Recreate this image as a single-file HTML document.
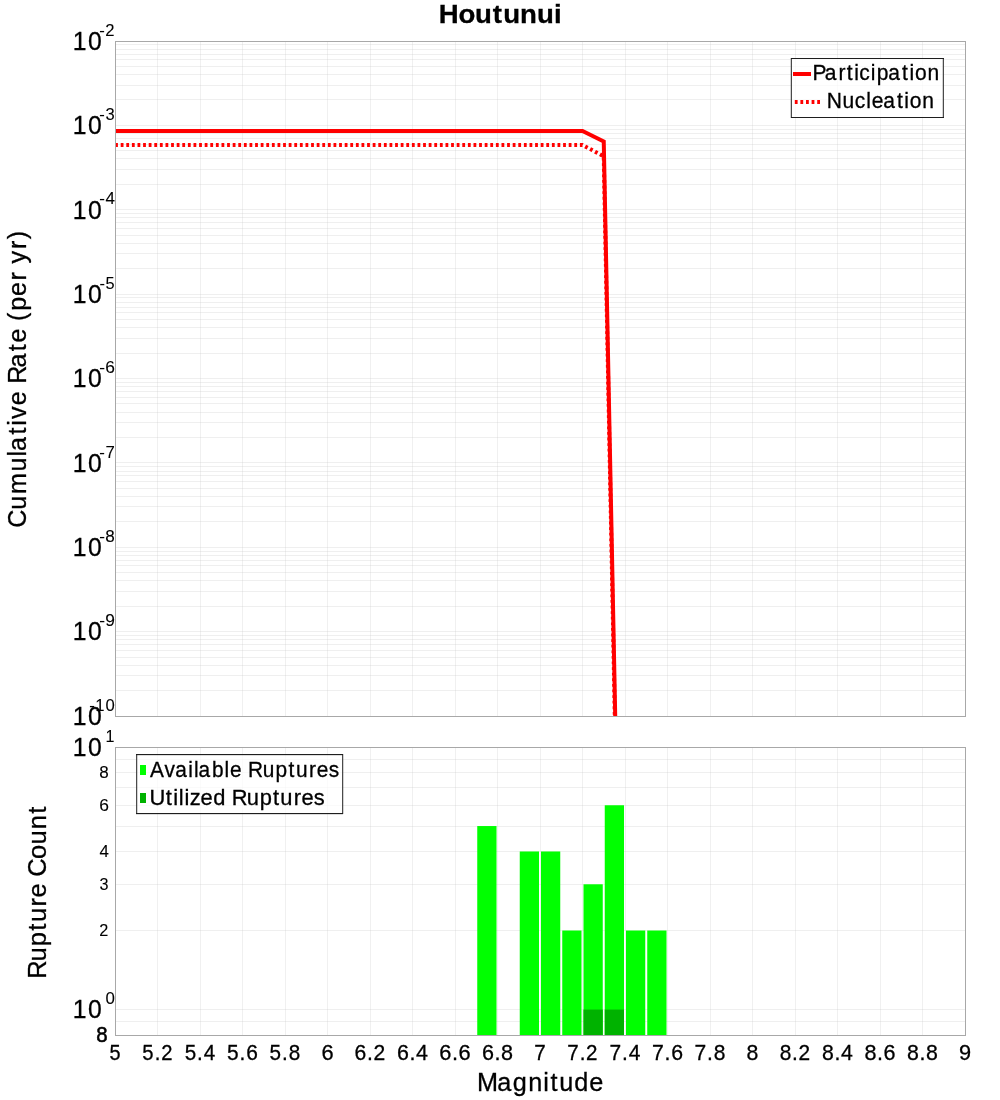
<!DOCTYPE html><html><head><meta charset="utf-8"><title>Houtunui</title><style>html,body{margin:0;padding:0;background:#fff;overflow:hidden}svg{display:block;will-change:transform}text{font-family:"Liberation Sans",sans-serif;stroke:#000;stroke-width:0.3px}text.b8{stroke-width:0.55px}text.s16{stroke-width:0.1px}</style></head><body>
<svg width="1000" height="1100" viewBox="0 0 1000 1100">
<rect x="0" y="0" width="1000" height="1100" fill="#fff"/>
<g fill="rgba(192,192,192,0.24)"><rect x="157" y="42" width="1" height="674"/><rect x="200" y="42" width="1" height="674"/><rect x="242" y="42" width="1" height="674"/><rect x="285" y="42" width="1" height="674"/><rect x="327" y="42" width="1" height="674"/><rect x="370" y="42" width="1" height="674"/><rect x="412" y="42" width="1" height="674"/><rect x="455" y="42" width="1" height="674"/><rect x="497" y="42" width="1" height="674"/><rect x="540" y="42" width="1" height="674"/><rect x="582" y="42" width="1" height="674"/><rect x="625" y="42" width="1" height="674"/><rect x="667" y="42" width="1" height="674"/><rect x="710" y="42" width="1" height="674"/><rect x="752" y="42" width="1" height="674"/><rect x="795" y="42" width="1" height="674"/><rect x="837" y="42" width="1" height="674"/><rect x="880" y="42" width="1" height="674"/><rect x="922" y="42" width="1" height="674"/></g>
<g fill="rgba(192,192,192,0.26)"><rect x="116" y="44" width="849" height="1"/><rect x="116" y="49" width="849" height="1"/><rect x="116" y="54" width="849" height="1"/><rect x="116" y="59" width="849" height="1"/><rect x="116" y="66" width="849" height="1"/><rect x="116" y="74" width="849" height="1"/><rect x="116" y="85" width="849" height="1"/><rect x="116" y="99" width="849" height="1"/><rect x="116" y="125" width="849" height="1"/><rect x="116" y="129" width="849" height="1"/><rect x="116" y="133" width="849" height="1"/><rect x="116" y="138" width="849" height="1"/><rect x="116" y="144" width="849" height="1"/><rect x="116" y="150" width="849" height="1"/><rect x="116" y="158" width="849" height="1"/><rect x="116" y="169" width="849" height="1"/><rect x="116" y="184" width="849" height="1"/><rect x="116" y="209" width="849" height="1"/><rect x="116" y="213" width="849" height="1"/><rect x="116" y="217" width="849" height="1"/><rect x="116" y="222" width="849" height="1"/><rect x="116" y="228" width="849" height="1"/><rect x="116" y="235" width="849" height="1"/><rect x="116" y="243" width="849" height="1"/><rect x="116" y="253" width="849" height="1"/><rect x="116" y="268" width="849" height="1"/><rect x="116" y="294" width="849" height="1"/><rect x="116" y="297" width="849" height="1"/><rect x="116" y="302" width="849" height="1"/><rect x="116" y="307" width="849" height="1"/><rect x="116" y="312" width="849" height="1"/><rect x="116" y="319" width="849" height="1"/><rect x="116" y="327" width="849" height="1"/><rect x="116" y="338" width="849" height="1"/><rect x="116" y="353" width="849" height="1"/><rect x="116" y="378" width="849" height="1"/><rect x="116" y="382" width="849" height="1"/><rect x="116" y="386" width="849" height="1"/><rect x="116" y="391" width="849" height="1"/><rect x="116" y="397" width="849" height="1"/><rect x="116" y="403" width="849" height="1"/><rect x="116" y="412" width="849" height="1"/><rect x="116" y="422" width="849" height="1"/><rect x="116" y="437" width="849" height="1"/><rect x="116" y="462" width="849" height="1"/><rect x="116" y="466" width="849" height="1"/><rect x="116" y="471" width="849" height="1"/><rect x="116" y="475" width="849" height="1"/><rect x="116" y="481" width="849" height="1"/><rect x="116" y="488" width="849" height="1"/><rect x="116" y="496" width="849" height="1"/><rect x="116" y="506" width="849" height="1"/><rect x="116" y="521" width="849" height="1"/><rect x="116" y="547" width="849" height="1"/><rect x="116" y="551" width="849" height="1"/><rect x="116" y="555" width="849" height="1"/><rect x="116" y="560" width="849" height="1"/><rect x="116" y="565" width="849" height="1"/><rect x="116" y="572" width="849" height="1"/><rect x="116" y="580" width="849" height="1"/><rect x="116" y="591" width="849" height="1"/><rect x="116" y="606" width="849" height="1"/><rect x="116" y="631" width="849" height="1"/><rect x="116" y="635" width="849" height="1"/><rect x="116" y="639" width="849" height="1"/><rect x="116" y="644" width="849" height="1"/><rect x="116" y="650" width="849" height="1"/><rect x="116" y="657" width="849" height="1"/><rect x="116" y="665" width="849" height="1"/><rect x="116" y="675" width="849" height="1"/><rect x="116" y="690" width="849" height="1"/></g>
<g fill="rgba(192,192,192,0.24)"><rect x="157" y="748" width="1" height="287"/><rect x="200" y="748" width="1" height="287"/><rect x="242" y="748" width="1" height="287"/><rect x="285" y="748" width="1" height="287"/><rect x="327" y="748" width="1" height="287"/><rect x="370" y="748" width="1" height="287"/><rect x="412" y="748" width="1" height="287"/><rect x="455" y="748" width="1" height="287"/><rect x="497" y="748" width="1" height="287"/><rect x="540" y="748" width="1" height="287"/><rect x="582" y="748" width="1" height="287"/><rect x="625" y="748" width="1" height="287"/><rect x="667" y="748" width="1" height="287"/><rect x="710" y="748" width="1" height="287"/><rect x="752" y="748" width="1" height="287"/><rect x="795" y="748" width="1" height="287"/><rect x="837" y="748" width="1" height="287"/><rect x="880" y="748" width="1" height="287"/><rect x="922" y="748" width="1" height="287"/></g>
<g fill="rgba(192,192,192,0.26)"><rect x="116" y="1021" width="849" height="1"/><rect x="116" y="1009" width="849" height="1"/><rect x="116" y="930" width="849" height="1"/><rect x="116" y="884" width="849" height="1"/><rect x="116" y="851" width="849" height="1"/><rect x="116" y="826" width="849" height="1"/><rect x="116" y="805" width="849" height="1"/><rect x="116" y="787" width="849" height="1"/><rect x="116" y="772" width="849" height="1"/><rect x="116" y="759" width="849" height="1"/></g>
<g fill="#00ff00"><rect x="477.25" y="826.04" width="19.25" height="208.96"/><rect x="519.75" y="851.48" width="19.25" height="183.52"/><rect x="541.00" y="851.48" width="19.25" height="183.52"/><rect x="562.25" y="930.52" width="19.25" height="104.48"/><rect x="583.50" y="884.28" width="19.25" height="150.72"/><rect x="604.75" y="805.25" width="19.25" height="229.75"/><rect x="626.00" y="930.52" width="19.25" height="104.48"/><rect x="647.25" y="930.52" width="19.25" height="104.48"/></g>
<g fill="#00b200"><rect x="583.50" y="1009.56" width="19.25" height="25.44"/><rect x="604.75" y="1009.56" width="19.25" height="25.44"/></g>
<defs><clipPath id="c1"><rect x="115" y="41" width="850" height="675"/></clipPath></defs>
<g clip-path="url(#c1)" fill="none" stroke="#ff0000" stroke-width="4" stroke-linejoin="miter" stroke-miterlimit="10">
<polyline points="115.10,145.00 582.50,145.00 603.75,156.30 615.67,760.00" stroke-dasharray="2.8 2.8"/>
<polyline points="115.00,131.00 582.50,131.00 603.75,141.50 616.10,760.00"/>
</g>
<rect x="115.5" y="41.5" width="850" height="675" fill="none" stroke="#a8a8a8" stroke-width="1"/>
<rect x="115.5" y="747.5" width="850" height="288" fill="none" stroke="#a8a8a8" stroke-width="1"/>
<rect x="791" y="58" width="153" height="60" fill="rgba(255,255,255,0.7)"/>
<g fill="#1e1e1e"><rect x="791" y="58" width="153" height="1"/><rect x="791" y="117" width="153" height="1"/><rect x="790.8" y="58" width="1" height="60"/><rect x="942.8" y="58" width="1" height="60"/></g>
<rect x="793" y="72" width="18" height="4" fill="#ff0000"/>
<g fill="#ff0000"><rect x="794.80" y="100" width="2.8" height="4"/><rect x="800.40" y="100" width="2.8" height="4"/><rect x="806.00" y="100" width="2.8" height="4"/><rect x="811.60" y="100" width="2.8" height="4"/><rect x="817.20" y="100" width="2.8" height="4"/></g>
<text transform="matrix(0.9638,0,0,1,0,0)" x="842.94 855.73 870.05 878.59 886.27 891.63 903.57 909.59 921.71 935.98 943.66 949.31 962.37" y="80.00" style="font-size:21.80px;font-weight:normal" fill="#000">Participation</text>
<text transform="matrix(0.9630,0,0,1,0,0)" x="858.65 874.83 887.60 899.51 905.23 917.22 931.47 939.13 944.76 957.80" y="108.00" style="font-size:21.80px;font-weight:normal" fill="#000">Nucleation</text>
<rect x="136" y="754" width="207" height="60" fill="rgba(255,255,255,0.7)"/>
<g fill="#1e1e1e"><rect x="136" y="754" width="207" height="1.15"/><rect x="136" y="813" width="207" height="1.15"/><rect x="136.2" y="754" width="1" height="60"/><rect x="342.2" y="754" width="1" height="60"/></g>
<rect x="140" y="765" width="6" height="10" fill="#00ff00"/>
<rect x="140" y="793" width="6" height="10" fill="#00b200"/>
<text transform="matrix(0.9570,0,0,1,0,0)" x="156.67 171.84 183.05 196.81 202.61 207.50 221.47 234.53 240.27 241.27 259.12 274.45 287.90 301.49 309.20 323.02 330.96 343.56" y="777.00" style="font-size:21.80px;font-weight:normal" fill="#000">Available Ruptures</text>
<text transform="matrix(1.0030,0,0,1,0,0)" x="149.12 165.28 172.73 178.34 183.97 189.15 200.01 212.50 213.50 231.00 245.90 258.89 272.14 279.49 292.92 300.53 312.74" y="804.70" style="font-size:21.80px;font-weight:normal" fill="#000">Utilized Ruptures</text>
<text transform="matrix(1.0550,0,0,1,0,0)" x="415.91 434.49 450.21 467.12 476.96 493.00 508.97 525.22" y="23.00" style="font-size:26.16px;font-weight:bold" fill="#000">Houtunui</text>
<text transform="matrix(0.9655,0,0,1,0,0)" x="493.99 514.92 531.13 547.02 562.62 570.10 579.16 594.76 610.41" y="1091.00" style="font-size:26.16px;font-weight:normal" fill="#000">Magnitude</text>
<text transform="translate(26.00,0) rotate(-90) scale(0.9594,1)" x="-550.18 -531.38 -514.93 -491.47 -475.73 -469.99 -453.00 -443.88 -436.73 -422.44 -421.44 -400.12 -383.05 -366.06 -357.08 -356.08 -334.51 -323.89 -308.48 -292.40 -291.40 -274.73 -259.61 -249.48" y="0" style="font-size:26.16px">Cumulative Rate (per yr)</text>
<text transform="translate(46.00,0) rotate(-90) scale(0.9769,1)" x="-1001.96 -984.13 -968.58 -952.72 -943.93 -927.87 -918.77 -917.77 -897.54 -879.36 -864.35 -848.90 -832.96" y="0" style="font-size:26.16px">Rupture Count</text>
<text transform="matrix(0.9126,0,0,1,0,0)" x="119.86" y="1060.00" style="font-size:21.80px;font-weight:normal" fill="#000">5</text>
<text transform="matrix(0.9287,0,0,1,0,0)" x="153.17 166.55 173.51" y="1060.00" style="font-size:21.80px;font-weight:normal" fill="#000">5.2</text>
<text transform="matrix(0.9453,0,0,1,0,0)" x="195.33 208.53 215.60" y="1060.00" style="font-size:21.80px;font-weight:normal" fill="#000">5.4</text>
<text transform="matrix(0.9595,0,0,1,0,0)" x="236.65 249.70 256.62" y="1060.00" style="font-size:21.80px;font-weight:normal" fill="#000">5.6</text>
<text transform="matrix(0.9492,0,0,1,0,0)" x="284.04 297.20 304.22" y="1060.00" style="font-size:21.80px;font-weight:normal" fill="#000">5.8</text>
<text transform="matrix(1.0008,0,0,1,0,0)" x="321.16" y="1060.00" style="font-size:21.80px;font-weight:normal" fill="#000">6</text>
<text transform="matrix(0.9691,0,0,1,0,0)" x="365.88 378.76 385.30" y="1060.00" style="font-size:21.80px;font-weight:normal" fill="#000">6.2</text>
<text transform="matrix(0.9841,0,0,1,0,0)" x="403.42 416.14 422.81" y="1060.00" style="font-size:21.80px;font-weight:normal" fill="#000">6.4</text>
<text transform="matrix(1.0000,0,0,1,0,0)" x="439.37 451.94 458.45" y="1060.00" style="font-size:21.80px;font-weight:normal" fill="#000">6.6</text>
<text transform="matrix(0.9894,0,0,1,0,0)" x="487.13 499.80 506.42" y="1060.00" style="font-size:21.80px;font-weight:normal" fill="#000">6.8</text>
<text transform="matrix(0.9459,0,0,1,0,0)" x="564.77" y="1060.00" style="font-size:21.80px;font-weight:normal" fill="#000">7</text>
<text transform="matrix(0.9441,0,0,1,0,0)" x="600.80 613.97 620.77" y="1060.00" style="font-size:21.80px;font-weight:normal" fill="#000">7.2</text>
<text transform="matrix(0.9603,0,0,1,0,0)" x="634.82 647.82 654.73" y="1060.00" style="font-size:21.80px;font-weight:normal" fill="#000">7.4</text>
<text transform="matrix(0.9754,0,0,1,0,0)" x="668.47 681.32 688.08" y="1060.00" style="font-size:21.80px;font-weight:normal" fill="#000">7.6</text>
<text transform="matrix(0.9648,0,0,1,0,0)" x="719.90 732.86 739.72" y="1060.00" style="font-size:21.80px;font-weight:normal" fill="#000">7.8</text>
<text transform="matrix(0.9775,0,0,1,0,0)" x="763.78" y="1060.00" style="font-size:21.80px;font-weight:normal" fill="#000">8</text>
<text transform="matrix(0.9586,0,0,1,0,0)" x="813.30 826.29 832.93" y="1060.00" style="font-size:21.80px;font-weight:normal" fill="#000">8.2</text>
<text transform="matrix(0.9739,0,0,1,0,0)" x="844.05 856.88 863.64" y="1060.00" style="font-size:21.80px;font-weight:normal" fill="#000">8.4</text>
<text transform="matrix(0.9894,0,0,1,0,0)" x="873.74 886.41 893.03" y="1060.00" style="font-size:21.80px;font-weight:normal" fill="#000">8.6</text>
<text transform="matrix(0.9789,0,0,1,0,0)" x="926.60 939.38 946.10" y="1060.00" style="font-size:21.80px;font-weight:normal" fill="#000">8.8</text>
<text transform="matrix(0.9988,0,0,1,0,0)" x="960.04" y="1060.00" style="font-size:21.80px;font-weight:normal" fill="#000">9</text>
<text transform="matrix(0.9464,0,0,1,0,0)" x="76.80 93.06" y="50.00" style="font-size:26.16px;font-weight:normal" fill="#000">10</text>
<text transform="matrix(0.9763,0,0,1,0,0)" x="101.78 107.83" y="36.00" style="font-size:17.01px;font-weight:normal" fill="#000" class="s16">-2</text>
<text transform="matrix(0.9464,0,0,1,0,0)" x="76.80 93.06" y="134.00" style="font-size:26.16px;font-weight:normal" fill="#000">10</text>
<text transform="matrix(0.9735,0,0,1,0,0)" x="102.09 108.40" y="120.00" style="font-size:17.01px;font-weight:normal" fill="#000" class="s16">-3</text>
<text transform="matrix(0.9464,0,0,1,0,0)" x="76.80 93.06" y="219.00" style="font-size:26.16px;font-weight:normal" fill="#000">10</text>
<text transform="matrix(0.9992,0,0,1,0,0)" x="99.38 105.47" y="204.00" style="font-size:17.01px;font-weight:normal" fill="#000" class="s16">-4</text>
<text transform="matrix(0.9464,0,0,1,0,0)" x="76.80 93.06" y="303.00" style="font-size:26.16px;font-weight:normal" fill="#000">10</text>
<text transform="matrix(0.9626,0,0,1,0,0)" x="103.27 109.59" y="289.00" style="font-size:17.01px;font-weight:normal" fill="#000" class="s16">-5</text>
<text transform="matrix(0.9464,0,0,1,0,0)" x="76.80 93.06" y="387.00" style="font-size:26.16px;font-weight:normal" fill="#000">10</text>
<text transform="matrix(1.0222,0,0,1,0,0)" x="97.08 102.98" y="373.00" style="font-size:17.01px;font-weight:normal" fill="#000" class="s16">-6</text>
<text transform="matrix(0.9464,0,0,1,0,0)" x="76.80 93.06" y="472.00" style="font-size:26.16px;font-weight:normal" fill="#000">10</text>
<text transform="matrix(0.9856,0,0,1,0,0)" x="100.80 106.96" y="458.00" style="font-size:17.01px;font-weight:normal" fill="#000" class="s16">-7</text>
<text transform="matrix(0.9464,0,0,1,0,0)" x="76.80 93.06" y="556.00" style="font-size:26.16px;font-weight:normal" fill="#000">10</text>
<text transform="matrix(1.0065,0,0,1,0,0)" x="98.64 104.66" y="542.00" style="font-size:17.01px;font-weight:normal" fill="#000" class="s16">-8</text>
<text transform="matrix(0.9464,0,0,1,0,0)" x="76.80 93.06" y="640.00" style="font-size:26.16px;font-weight:normal" fill="#000">10</text>
<text transform="matrix(1.0209,0,0,1,0,0)" x="97.21 103.08" y="626.00" style="font-size:17.01px;font-weight:normal" fill="#000" class="s16">-9</text>
<text transform="matrix(0.9464,0,0,1,0,0)" x="76.80 93.06" y="725.00" style="font-size:26.16px;font-weight:normal" fill="#000">10</text>
<text transform="matrix(0.9799,0,0,1,0,0)" x="91.01 97.16 107.64" y="711.00" style="font-size:17.01px;font-weight:normal" fill="#000" class="s16">-10</text>
<text transform="matrix(0.9464,0,0,1,0,0)" x="76.80 93.06" y="756.00" style="font-size:26.16px;font-weight:normal" fill="#000">10</text>
<text transform="matrix(0.9472,0,0,1,0,0)" x="111.43" y="742.00" style="font-size:17.01px;font-weight:normal" fill="#000" class="s16">1</text>
<text transform="matrix(0.9464,0,0,1,0,0)" x="76.80 93.06" y="1018.00" style="font-size:26.16px;font-weight:normal" fill="#000">10</text>
<text transform="matrix(0.9918,0,0,1,0,0)" x="106.29" y="1004.00" style="font-size:17.01px;font-weight:normal" fill="#000" class="s16">0</text>
<text transform="matrix(1.0025,0,0,1,0,0)" x="99.11" y="777.84" style="font-size:17.01px;font-weight:normal" fill="#000" class="s16">8</text>
<text transform="matrix(1.0265,0,0,1,0,0)" x="96.69" y="810.65" style="font-size:17.01px;font-weight:normal" fill="#000" class="s16">6</text>
<text transform="matrix(0.9919,0,0,1,0,0)" x="100.23" y="856.88" style="font-size:17.01px;font-weight:normal" fill="#000" class="s16">4</text>
<text transform="matrix(0.9525,0,0,1,0,0)" x="104.59" y="889.68" style="font-size:17.01px;font-weight:normal" fill="#000" class="s16">3</text>
<text transform="matrix(0.9560,0,0,1,0,0)" x="103.95" y="935.92" style="font-size:17.01px;font-weight:normal" fill="#000" class="s16">2</text>
<text transform="matrix(0.9200,0,0,1,0,0)" x="104.69" y="1041.80" style="font-size:22.24px;font-weight:normal" fill="#000" stroke-width="0.55" class="b8">8</text>
</svg></body></html>
